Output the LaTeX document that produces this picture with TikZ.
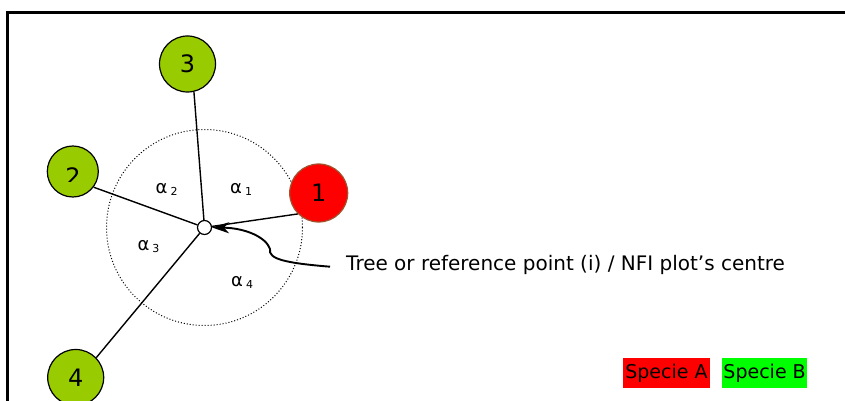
\documentclass[tikz,border=0pt]{standalone}
\usepackage{fontspec}
\setmainfont{DejaVu Sans}
\usetikzlibrary{arrows.meta}
\definecolor{treegreen}{RGB}{153,204,0}
\definecolor{treered}{RGB}{255,0,0}
\definecolor{redborder}{RGB}{160,82,45}
\definecolor{legred}{RGB}{255,0,0}
\definecolor{leggreen}{RGB}{0,255,0}
\begin{document}
\begin{tikzpicture}[x=1pt,y=-1pt,
  tree/.style={circle,draw=black,line width=1.2pt,fill=treegreen,inner sep=0pt,font=\fontsize{24}{24}\selectfont},
  link/.style={line width=1.4pt},
  alpha/.style={anchor=base west,inner sep=0pt,font=\fontsize{18}{18}\selectfont},
  legbox/.style={inner sep=0pt,minimum height=29.4pt,font=\fontsize{19}{19}\selectfont}]
\useasboundingbox (0,0) rectangle (845,401);
% frame
\draw[line width=2.6pt] (7.3,430) -- (7.3,12.7) -- (870,12.7);
% plot circle
\coordinate (cc) at (204.5,227.5);
\draw[dotted,line width=1pt] (cc) circle[radius=98pt];
% trees
\node[tree,minimum size=56pt] (n3) at (187.5,64) {3};
\node[tree,minimum size=51pt] (n2) at (72.8,171.5) {};
\begin{scope}
\clip (40,140) rectangle (110,181.7);
\node[inner sep=0pt,font=\fontsize{24}{24}\selectfont] (t2) at (73,176.4) {2};
\end{scope}
\node[circle,draw=redborder,line width=1.2pt,fill=treered,inner sep=0pt,minimum size=58pt,font=\fontsize{24}{24}\selectfont] (n1) at (318.7,193) {1};
\node[tree,minimum size=56pt] (n4) at (75.7,377.5) {4};
% centre
\node[circle,draw=black,fill=white,line width=1.2pt,minimum size=14pt,inner sep=0pt] (c) at (cc) {};
% links
\draw[link] (c) -- (n3.-77);
\draw[link] (c) -- (n2.-37);
\draw[link] (c) -- (n1.225);
\draw[link] (c) -- (n4.44);
% angles
\node[alpha] (a1) at (230,193.3) {α\hspace{3pt}\raisebox{-2pt}{\fontsize{11}{11}\selectfont 1}};
\node[alpha] (a2) at (155.5,193.3) {α\hspace{3pt}\raisebox{-2pt}{\fontsize{11}{11}\selectfont 2}};
\node[alpha] (a3) at (137.3,250) {α\hspace{3pt}\raisebox{-2pt}{\fontsize{11}{11}\selectfont 3}};
\node[alpha] (a4) at (231,286.7) {α\hspace{3pt}\raisebox{-2pt}{\fontsize{11}{11}\selectfont 4}};
% callout
\coordinate (tail) at (330,266.7);
\node[anchor=base west,inner sep=0pt,font=\fontsize{20}{20}\selectfont] (lbl) at (346,270) {Tree or reference point (i) / NFI plot’s centre};
\draw[line width=1.9pt,-{Stealth[length=17pt,width=11pt,inset=5pt]}] (tail) .. controls (285,263) and (268,259) .. (270,249) .. controls (266,237) and (245,228) .. (c.east);
% legend
\node[legbox,fill=legred,minimum width=87.3pt] (spa) at (666.4,373) {Specie A};
\node[legbox,fill=leggreen,minimum width=85.3pt] (spb) at (764.6,373) {Specie B};
\end{tikzpicture}
\end{document}
